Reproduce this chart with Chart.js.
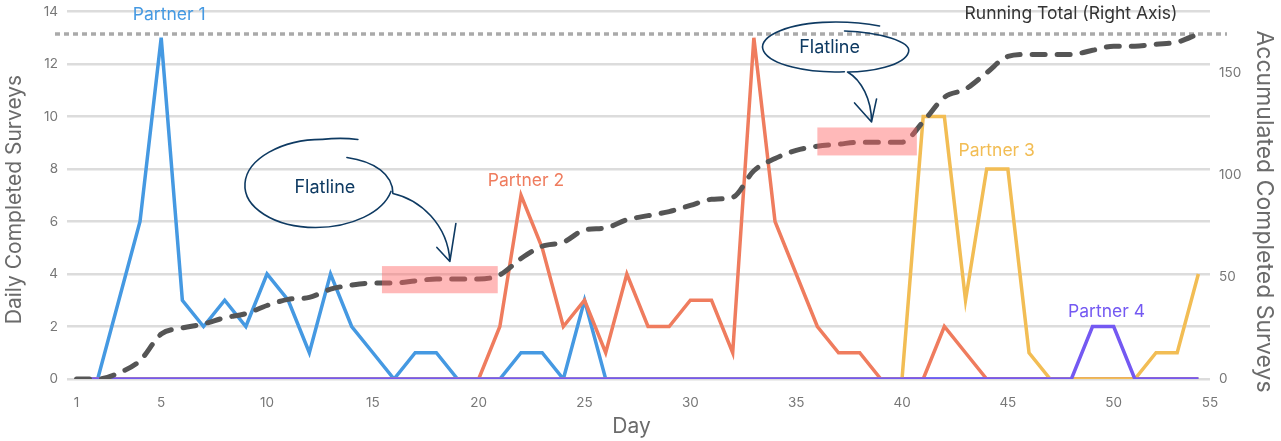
<!DOCTYPE html>
<html>
<head>
<meta charset="utf-8">
<title>Encuestas completadas por día</title>
<script src="https://cdn.jsdelivr.net/npm/chart.js@4.4.1/dist/chart.umd.min.js"></script>
<style>
  body { margin: 0; background: #fff; }
  canvas { display: block; }
</style>
</head>
<body>
<canvas id="graficoEncuestas" width="1281" height="441"></canvas>
<script>
// DATOS
const dias = [
   1,  2,  3,  4,  5,  6,  7,  8,  9, 10,
  11, 12, 13, 14, 15, 16, 17, 18, 19, 20,
  21, 22, 23, 24, 25, 26, 27, 28, 29, 30,
  31, 32, 33, 34, 35, 36, 37, 38, 39, 40,
  41, 42, 43, 44, 45, 46, 47, 48, 49, 50,
  51, 52, 53, 54
];

const partner1 = [
  0, 0, 3, 6, 13, 3, 2, 3, 2, 4,
  3, 1, 4, 2, 1, 0, 1, 1, 0, 0,
  0, 1, 1, 0, 3, 0, 0, 0, 0, 0,
  0, 0, 0, 0, 0, 0, 0, 0, 0, 0,
  0, 0, 0, 0, 0, 0, 0, 0, 0, 0,
  0, 0, 0, 0
];

const partner2 = [
  0, 0, 0, 0, 0, 0, 0, 0, 0, 0,
  0, 0, 0, 0, 0, 0, 0, 0, 0, 0,
  2, 7, 5, 2, 3, 1, 4, 2, 2, 3,
  3, 1, 13, 6, 4, 2, 1, 1, 0, 0,
  0, 2, 1, 0, 0, 0, 0, 0, 0, 0,
  0, 0, 0, 0
];

const partner3 = [
  0, 0, 0, 0, 0, 0, 0, 0, 0, 0,
  0, 0, 0, 0, 0, 0, 0, 0, 0, 0,
  0, 0, 0, 0, 0, 0, 0, 0, 0, 0,
  0, 0, 0, 0, 0, 0, 0, 0, 0, 0,
  10, 10, 3, 8, 8, 1, 0, 0, 0, 0,
  0, 1, 1, 4
];

const partner4 = [
  0, 0, 0, 0, 0, 0, 0, 0, 0, 0,
  0, 0, 0, 0, 0, 0, 0, 0, 0, 0,
  0, 0, 0, 0, 0, 0, 0, 0, 0, 0,
  0, 0, 0, 0, 0, 0, 0, 0, 0, 0,
  0, 0, 0, 0, 0, 0, 0, 0, 2, 2,
  0, 0, 0, 0
];

const totalAcumulado = [
   0,   0,   3,   9,  22,  25,  27,  30,  32,  36,
  39,  40,  44,  46,  47,  47,  48,  49,  49,  49,
  51,  59,  65,  67,  73,  74,  78,  80,  82,  85,
  88,  89, 102, 108, 112, 114, 115, 116, 116, 116,
 126, 138, 142, 150, 158, 159, 159, 159, 161, 163,
 163, 164, 165, 169
];

const ticksX = [1, 5, 10, 15, 20, 25, 30, 35, 40, 45, 50, 55];
const ticksIzq = [0, 2, 4, 6, 8, 10, 12, 14];
const ticksDer = [0, 50, 100, 150];
const totalFinal = 169;

// Tramos planos resaltados (día inicial/final, rango en eje derecho)
const tramosPlanos = [
  { desde: 15.43, hasta: 20.9, min: 42, max: 55.3 },
  { desde: 36.0, hasta: 40.7, min: 109.5, max: 123.2 }
];

// COLORES
const AZUL = '#4599E2';
const NARANJA = '#EF7C5E';
const AMARILLO = '#F2BD54';
const MORADO = '#7459F2';
const MARINO = '#0E3A62';
const GRIS_TEXTO = '#6b6b6b';
const FUENTE = 'Inter, "Noto Sans", sans-serif';

Chart.defaults.font.family = FUENTE;

// Etiquetas de cada partner (ancladas a un punto de datos)
const etiquetas = [
  { texto: 'Partner 1', dia: 5, valor: 13, dx: 8, dy: -23, color: AZUL },
  { texto: 'Partner 2', dia: 22, valor: 7, dx: 5, dy: -15, color: NARANJA },
  { texto: 'Partner 3', dia: 44, valor: 8, dx: 10, dy: -18, color: AMARILLO },
  { texto: 'Partner 4', dia: 49, valor: 2, dx: 14, dy: -15, color: MORADO }
];

// Globos "Flatline" dibujados a mano (centro en datos, forma en px)
const globos = [
  {
    dia: 12.45, valor: 7.45,
    rx: 74, ry: 44, rot: -0.04, a0: -1.5, a1: 0.25,
    inicio: [39, -44], control: [22, -46],
    trazo: [[28, -26], [56, -22, 74, -9, 74, 10], [101, 16, 129, 41, 131, 78]],
    barbas: [[118, 64], [137, 40]],
    texto: [6, 4]
  },
  {
    dia: 36.86, valor: 12.65,
    rx: 73, ry: 25, rot: 0, a0: -1.75, a1: 1.45,
    inicio: [44, -21], control: [18, -26],
    trazo: [[9, -16], [44, -15, 76, -5, 73, 5], [69, 19, 34, 25, 12, 25], [26, 33, 36, 53, 36, 75]],
    barbas: [[19, 56], [41, 52]],
    texto: [-6, 1]
  }
];

function puntos(serie) {
  return serie.map((v, i) => ({ x: dias[i], y: v }));
}

// Ajuste de caja de los ejes verticales
function ajustarVertical(ancho) {
  return s => {
    s.width = ancho;
    s.paddingTop = 2;
    s.paddingBottom = 2;
  };
}

// Línea punteada del total, su texto y los títulos de ejes (detrás de las series)
const lineaTotal = {
  id: 'lineaTotal',
  beforeDatasetsDraw(chart) {
    const { ctx, chartArea, scales } = chart;
    const yT = scales.y1.getPixelForValue(totalFinal);
    ctx.save();
    ctx.strokeStyle = '#aaaaaa';
    ctx.lineWidth = 3.5;
    ctx.setLineDash([5, 4]);
    ctx.beginPath();
    ctx.moveTo(chartArea.left - 12, yT);
    ctx.lineTo(chartArea.right + 17, yT);
    ctx.stroke();
    ctx.setLineDash([]);
    ctx.fillStyle = '#333';
    ctx.font = '17.5px ' + FUENTE;
    ctx.textAlign = 'center';
    ctx.textBaseline = 'middle';
    ctx.fillText('Running Total (Right Axis)', chartArea.right - 139, yT - 20);

    // Títulos de ejes
    ctx.fillStyle = GRIS_TEXTO;
    ctx.font = '21px ' + FUENTE;
    ctx.fillText('Day', (chartArea.left + chartArea.right) / 2 - 7, chartArea.bottom + 48);

    ctx.save();
    ctx.translate(15, chartArea.top + 188);
    ctx.rotate(-Math.PI / 2);
    ctx.fillText('Daily Completed Surveys', 0, 0);
    ctx.restore();

    ctx.save();
    ctx.translate(chart.width - 17, chartArea.top + 200);
    ctx.rotate(Math.PI / 2);
    ctx.font = '23px ' + FUENTE;
    ctx.fillText('Accumulated Completed Surveys', 0, 0);
    ctx.restore();

    ctx.restore();
  }
};

// Resaltados, etiquetas y globos (encima de las series)
const anotaciones = {
  id: 'anotaciones',
  afterDatasetsDraw(chart) {
    const { ctx, scales: { x, y, y1 } } = chart;
    ctx.save();

    ctx.fillStyle = 'rgba(255, 100, 100, 0.45)';
    tramosPlanos.forEach(t => {
      const x0 = x.getPixelForValue(t.desde);
      const x1 = x.getPixelForValue(t.hasta);
      const yA = y1.getPixelForValue(t.max);
      const yB = y1.getPixelForValue(t.min);
      ctx.fillRect(x0, yA, x1 - x0, yB - yA);
    });

    ctx.font = '17.5px ' + FUENTE;
    ctx.textAlign = 'center';
    ctx.textBaseline = 'middle';
    etiquetas.forEach(e => {
      ctx.fillStyle = e.color;
      ctx.fillText(e.texto, x.getPixelForValue(e.dia) + e.dx, y.getPixelForValue(e.valor) + e.dy);
    });

    ctx.strokeStyle = MARINO;
    ctx.fillStyle = MARINO;
    ctx.lineWidth = 1.6;
    ctx.lineCap = 'round';
    ctx.lineJoin = 'round';
    globos.forEach(g => {
      const cx = x.getPixelForValue(g.dia);
      const cy = y.getPixelForValue(g.valor);

      // Contorno abierto: cola superior + elipse
      const ax = cx + g.rx * Math.cos(g.a0) * Math.cos(g.rot) - g.ry * Math.sin(g.a0) * Math.sin(g.rot);
      const ay = cy + g.rx * Math.cos(g.a0) * Math.sin(g.rot) + g.ry * Math.sin(g.a0) * Math.cos(g.rot);
      ctx.beginPath();
      ctx.moveTo(cx + g.inicio[0], cy + g.inicio[1]);
      ctx.quadraticCurveTo(cx + g.control[0], cy + g.control[1], ax, ay);
      ctx.ellipse(cx, cy, g.rx, g.ry, g.rot, g.a0, g.a1, true);
      ctx.stroke();

      // Trazo interior que sale hacia la flecha
      ctx.beginPath();
      g.trazo.forEach((s, i) => {
        if (i === 0) ctx.moveTo(cx + s[0], cy + s[1]);
        else ctx.bezierCurveTo(cx + s[0], cy + s[1], cx + s[2], cy + s[3], cx + s[4], cy + s[5]);
      });
      const fin = g.trazo[g.trazo.length - 1];
      const px = cx + fin[4], py = cy + fin[5];
      g.barbas.forEach(b => {
        ctx.moveTo(cx + b[0], cy + b[1]);
        ctx.lineTo(px, py);
      });
      ctx.stroke();

      ctx.font = '18px ' + FUENTE;
      ctx.fillText('Flatline', cx + g.texto[0], cy + g.texto[1]);
    });

    ctx.restore();
  }
};

function serieDiaria(nombre, datos, color, orden) {
  return {
    label: nombre,
    data: puntos(datos),
    yAxisID: 'y',
    borderColor: color,
    borderWidth: 3.5,
    pointRadius: 0,
    tension: 0,
    order: orden
  };
}

const ctx = document.getElementById('graficoEncuestas').getContext('2d');

window.miGrafica = new Chart(ctx, {
  type: 'line',
  data: {
    datasets: [
      {
        label: 'Running Total',
        data: puntos(totalAcumulado),
        yAxisID: 'y1',
        borderColor: '#555555',
        borderWidth: 5,
        borderDash: [13, 12],
        borderCapStyle: 'round',
        cubicInterpolationMode: 'monotone',
        pointRadius: 0,
        order: 0
      },
      serieDiaria('Partner 4', partner4, MORADO, 1),
      serieDiaria('Partner 3', partner3, AMARILLO, 2),
      serieDiaria('Partner 2', partner2, NARANJA, 3),
      serieDiaria('Partner 1', partner1, AZUL, 4)
    ]
  },
  options: {
    responsive: false,
    animation: false,
    devicePixelRatio: 1,
    layout: { padding: { top: 11.5, left: 0, right: 0, bottom: 0 } },
    plugins: {
      legend: { display: false },
      tooltip: { enabled: false }
    },
    scales: {
      x: {
        type: 'linear',
        min: 0.55,
        max: 54.55,
        afterBuildTicks: s => { s.ticks = ticksX.map(v => ({ value: Math.min(v, s.max) })); },
        afterFit: s => { s.height = 62; },
        grid: { display: false },
        border: { display: false },
        ticks: {
          color: '#777',
          font: { size: 13.5 },
          padding: 8,
          maxRotation: 0,
          autoSkip: false,
          callback: (v, i) => String(ticksX[i])
        }
      },
      y: {
        position: 'left',
        min: 0,
        max: 14,
        afterBuildTicks: s => { s.ticks = ticksIzq.map(v => ({ value: v })); },
        afterFit: ajustarVertical(67),
        grid: { color: '#dcdcdc', lineWidth: 2.5, drawTicks: false },
        border: { display: false },
        ticks: { color: '#777', font: { size: 13.5 }, padding: 9 }
      },
      y1: {
        position: 'right',
        min: 0,
        max: 180,
        afterBuildTicks: s => { s.ticks = ticksDer.map(v => ({ value: v })); },
        afterFit: ajustarVertical(71),
        grid: { display: false, drawTicks: false },
        border: { display: false },
        ticks: { color: '#777', font: { size: 13.5 }, padding: 9 }
      }
    }
  },
  plugins: [lineaTotal, anotaciones]
});
</script>
</body>
</html>
